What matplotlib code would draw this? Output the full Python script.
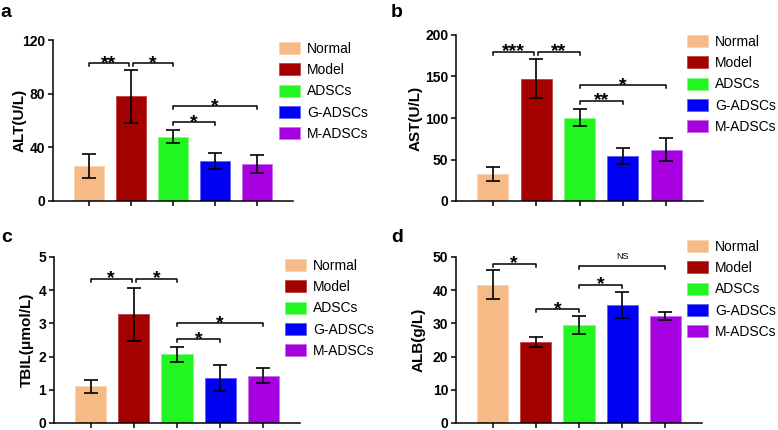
import numpy as np
import matplotlib
matplotlib.use("Agg")
import matplotlib.pyplot as plt

plt.rcParams['font.family'] = ['Liberation Sans', 'DejaVu Sans']

groups = ['Normal', 'Model', 'ADSCs', 'G-ADSCs', 'M-ADSCs']
colors = ['#F5BA85', '#A30000', '#22F522', '#0000F5', '#A600E0']
edges = ['#F8D2AE', '#C04040', '#80FA80', '#6060FA', '#C870F0']

# panel a - ALT
alt_mean = [26, 78, 48, 29.5, 27.5]
alt_err = [9, 19.5, 5, 6, 6.5]
alt_sig = [(0, 1, 102.5, '**'), (1, 2, 102.5, '*'), (2, 4, 71, '*'), (2, 3, 59, '*')]

# panel b - AST
ast_mean = [33, 147.5, 100.5, 54.5, 62]
ast_err = [8.5, 23.5, 10.5, 9.5, 13.5]
ast_sig = [(0, 1, 180, '***'), (1, 2, 180, '**'), (2, 4, 140, '*'), (2, 3, 121, '**')]

# panel c - TBIL
tbil_mean = [1.1, 3.27, 2.07, 1.35, 1.43]
tbil_err = [0.2, 0.8, 0.22, 0.4, 0.22]
tbil_sig = [(0, 1, 4.35, '*'), (1, 2, 4.35, '*'), (2, 4, 3.0, '*'), (2, 3, 2.52, '*')]

# panel d - ALB
alb_mean = [41.6, 24.3, 29.5, 35.5, 32.2]
alb_err = [4.4, 1.5, 2.8, 3.9, 1.2]
alb_sig = [(0, 1, 48, '*'), (1, 2, 34.4, '*'), (2, 3, 41.7, '*'), (2, 4, 47.4, 'NS')]

W, H = 778, 430
fig = plt.figure(figsize=(W / 100, H / 100), dpi=100)

def px_axes(l, r, t, b):
    return fig.add_axes([l / W, 1 - b / H, (r - l) / W, (b - t) / H])

panels = [
    dict(box=(53, 293, 40, 201), mean=alt_mean, err=alt_err, sig=alt_sig,
         ylabel='ALT(U/L)', ylim=120, yticks=[0, 40, 80, 120], labx=-0.108,
         leg=(279, 42), letter='a', lpos=(0, 17)),
    dict(box=(456, 703, 35, 201), mean=ast_mean, err=ast_err, sig=ast_sig,
         ylabel='AST(U/L)', ylim=200, yticks=[0, 50, 100, 150, 200], labx=-0.134,
         leg=(687, 35), letter='b', lpos=(391, 17)),
    dict(box=(54, 300, 257, 423), mean=tbil_mean, err=tbil_err, sig=tbil_sig,
         ylabel='TBIL(μmol/L)', ylim=5, yticks=[0, 1, 2, 3, 4, 5], labx=-0.081,
         leg=(285, 259), letter='c', lpos=(1, 242)),
    dict(box=(456, 702, 257, 423), mean=alb_mean, err=alb_err, sig=alb_sig,
         ylabel='ALB(g/L)', ylim=50, yticks=[0, 10, 20, 30, 40, 50], labx=-0.122,
         leg=(687, 240), letter='d', lpos=(391, 242)),
]

x = np.arange(len(groups))

for p in panels:
    ax = px_axes(*p['box'])
    bars = ax.bar(x, p['mean'], width=0.72, color=colors, edgecolor=edges,
                  linewidth=0.6, label=groups, zorder=2)
    ax.errorbar(x, p['mean'], yerr=p['err'], fmt='none', ecolor='black',
                elinewidth=1.2, capsize=5, capthick=1.2, zorder=3)
    ax.set_xlim(-0.85, 4.85)
    ax.set_ylim(0, p['ylim'])
    ax.set_yticks(p['yticks'])
    ax.set_xticks(x)
    ax.set_xticklabels([])
    for s in ['top', 'right']:
        ax.spines[s].set_visible(False)
    for s in ['left', 'bottom']:
        ax.spines[s].set_linewidth(1.1)
    ax.tick_params(axis='both', length=3.5, width=1.1, pad=2)
    for lab in ax.get_yticklabels():
        lab.set_fontsize(10)
        lab.set_fontweight('bold')
    ax.set_ylabel(p['ylabel'], fontsize=11, fontweight='bold')
    ax.yaxis.set_label_coords(p['labx'], 0.5)

    # significance brackets
    d = p['ylim'] * 0.018
    sig = p['sig']
    for k, (i, j, y, txt) in enumerate(sig):
        x0, x1 = float(i), float(j)
        for m, (i2, j2, y2, _) in enumerate(sig):
            if m != k and y2 == y:
                if j2 == i:
                    x0 += 0.05
                if i2 == j:
                    x1 -= 0.05
        ax.plot([x0, x0, x1, x1], [y - d, y, y, y - d], color='black',
                lw=1.1, clip_on=False, zorder=4)
        if txt == 'NS':
            ax.annotate(txt, ((x0 + x1) / 2, y), xytext=(0, 3.5),
                        textcoords='offset points', ha='center', va='bottom',
                        fontsize=6.5, annotation_clip=False)
        else:
            ax.annotate(txt, ((x0 + x1) / 2, y), xytext=(0, -3.5),
                        textcoords='offset points', ha='center', va='baseline',
                        fontsize=14, fontweight='bold', annotation_clip=False)

    lx, ly = p['leg']
    ax.legend(bars, groups, loc='upper left', bbox_to_anchor=(lx / W, 1 - ly / H),
              bbox_transform=fig.transFigure, frameon=False, fontsize=10,
              borderpad=0, borderaxespad=0, handlelength=1.5, handleheight=0.95,
              handletextpad=0.5, labelspacing=0.52)

    fx, fy = p['lpos']
    fig.text(fx / W, 1 - fy / H, p['letter'], fontsize=14, fontweight='bold',
             va='baseline', ha='left')

fig.savefig('out.png', dpi=100)
